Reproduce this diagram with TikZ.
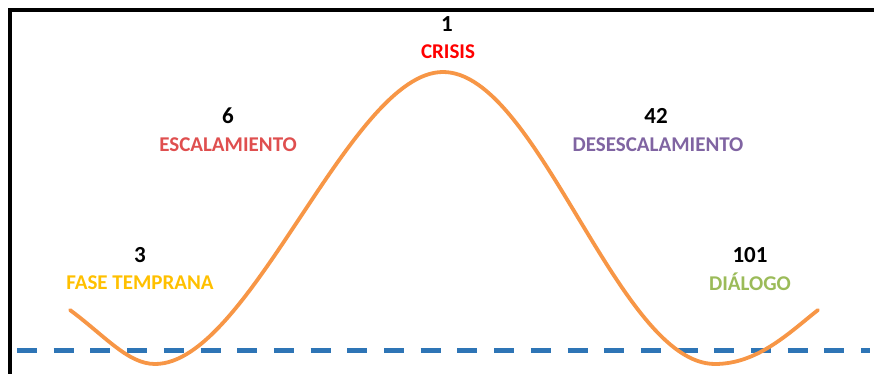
\documentclass[tikz,border=0pt]{standalone}
\usepackage{fontspec}
\setmainfont{Carlito}
\definecolor{curveorange}{HTML}{F79646}
\definecolor{baseblue}{HTML}{2E75B6}
\definecolor{escred}{HTML}{DF4F4F}
\definecolor{desviolet}{HTML}{8064A2}
\definecolor{earlygold}{HTML}{FFC000}
\definecolor{talkgreen}{HTML}{9BBB59}
\tikzset{
  count/.style={font=\fontsize{23}{26}\selectfont\bfseries, inner sep=0pt},
  phase/.style={font=\fontsize{21}{24}\selectfont\bfseries, inner sep=0pt}
}

\begin{document}
\begin{tikzpicture}[x=1pt,y=-1pt]
  \useasboundingbox (0,0) rectangle (874,374);
  \draw[line width=4pt] (9.5,374) -- (9.5,10) -- (874,10);
  \draw[baseblue, line width=5pt, dash pattern=on 20pt off 16.7pt] (17,350) -- (870,350);
  \draw[curveorange, line width=3.8pt, line cap=round]
    (70,310) .. controls (105,336) and (128,364) .. (155,364)
    .. controls (250,364) and (350,72) .. (443,72)
    .. controls (538,72) and (618,364) .. (715,364)
    .. controls (758,364) and (790,332) .. (818,310);
  \node[count] (crisisn) at (447,24) {1};
  \node[phase, text=red] (crisis) at (448,52) {CRISIS};
  \node[count] (escn) at (228,116) {6};
  \node[phase, text=escred] (esc) at (228,145) {ESCALAMIENTO};
  \node[count] (desn) at (656,116) {42};
  \node[phase, text=desviolet] (des) at (658,145) {DESESCALAMIENTO};
  \node[count] (earlyn) at (140,255) {3};
  \node[phase, text=earlygold] (early) at (140,283) {FASE TEMPRANA};
  \node[count] (talkn) at (750,255) {101};
  \node[phase, text=talkgreen, anchor=base] (talk) at (750,290) {DIÁLOGO};
\end{tikzpicture}
\end{document}
